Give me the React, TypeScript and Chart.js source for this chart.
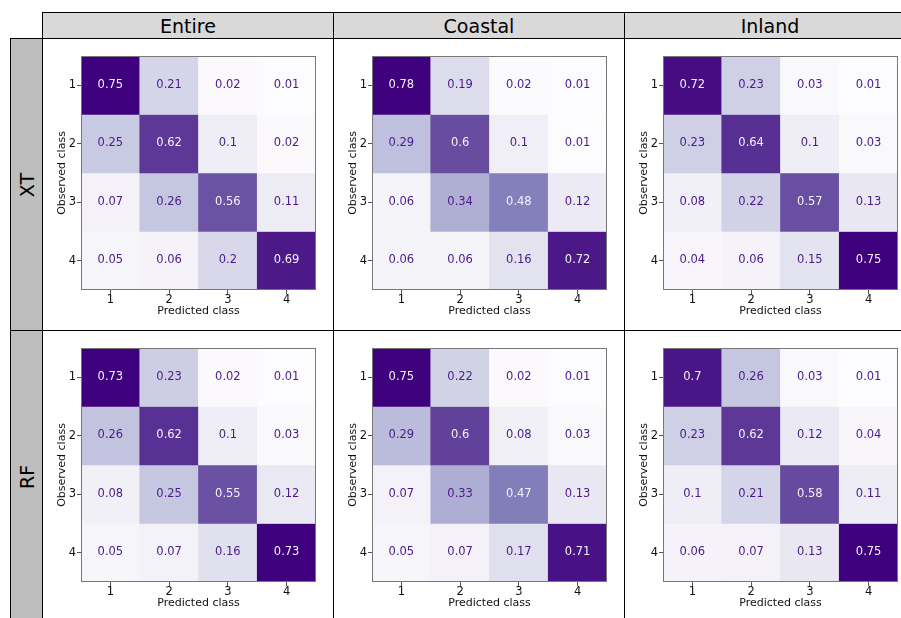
import { useEffect, useRef } from "react";
import { Chart, registerables } from "chart.js";

Chart.register(...registerables);

// ---- data ----
const classLabels = ["1", "2", "3", "4"];
const regionNames = ["Entire", "Coastal", "Inland"];
const modelNames = ["XT", "RF"];

const xtEntire = [
  [0.75, 0.21, 0.02, 0.01],
  [0.25, 0.62, 0.1, 0.02],
  [0.07, 0.26, 0.56, 0.11],
  [0.05, 0.06, 0.2, 0.69],
];
const xtCoastal = [
  [0.78, 0.19, 0.02, 0.01],
  [0.29, 0.6, 0.1, 0.01],
  [0.06, 0.34, 0.48, 0.12],
  [0.06, 0.06, 0.16, 0.72],
];
const xtInland = [
  [0.72, 0.23, 0.03, 0.01],
  [0.23, 0.64, 0.1, 0.03],
  [0.08, 0.22, 0.57, 0.13],
  [0.04, 0.06, 0.15, 0.75],
];
const rfEntire = [
  [0.73, 0.23, 0.02, 0.01],
  [0.26, 0.62, 0.1, 0.03],
  [0.08, 0.25, 0.55, 0.12],
  [0.05, 0.07, 0.16, 0.73],
];
const rfCoastal = [
  [0.75, 0.22, 0.02, 0.01],
  [0.29, 0.6, 0.08, 0.03],
  [0.07, 0.33, 0.47, 0.13],
  [0.05, 0.07, 0.17, 0.71],
];
const rfInland = [
  [0.7, 0.26, 0.03, 0.01],
  [0.23, 0.62, 0.12, 0.04],
  [0.1, 0.21, 0.58, 0.11],
  [0.06, 0.07, 0.13, 0.75],
];

const panelGrid = [
  [xtEntire, xtCoastal, xtInland],
  [rfEntire, rfCoastal, rfInland],
];

// ---- colormap (matplotlib "Purples") ----
const purpleStops = [
  "#fcfbfd", "#efedf5", "#dadaeb", "#bcbddc", "#9e9ac8",
  "#807dba", "#6a51a3", "#54278f", "#3f007d",
];
function hexToRgb(h: string) {
  return [1, 3, 5].map((i) => parseInt(h.slice(i, i + 2), 16));
}
function purples(t: number) {
  const tt = Math.max(0, Math.min(1, t)) * (purpleStops.length - 1);
  const i = Math.min(purpleStops.length - 2, Math.floor(tt));
  const f = tt - i;
  const a = hexToRgb(purpleStops[i]);
  const b = hexToRgb(purpleStops[i + 1]);
  const c = a.map((v, k) => Math.round(v + (b[k] - v) * f));
  return `rgb(${c[0]},${c[1]},${c[2]})`;
}

const FONT = "'DejaVu Sans', sans-serif";
const COL0 = 42;
const ROW0 = 38;
const COLW = 291;
const ROWH = 292;

function Panel({ matrix, col, row }: { matrix: number[][]; col: number; row: number }) {
  const ref = useRef<HTMLCanvasElement>(null);
  useEffect(() => {
    const flat = matrix.flat();
    const vmin = Math.min(...flat);
    const vmax = Math.max(...flat);
    const thresh = (vmin + vmax) / 2;
    const datasets = matrix.map((rowVals, r) => ({
      data: rowVals.map(() => [r, r + 1]),
      backgroundColor: rowVals.map((v) => purples((v - vmin) / (vmax - vmin))),
      borderWidth: 0,
      barPercentage: 1,
      categoryPercentage: 1,
      grouped: false,
    }));
    const cellPlugin = {
      id: "cellText",
      afterDatasetsDraw(chart: any) {
        const { ctx, chartArea, scales } = chart;
        const xs = scales.x;
        const ys = scales.y;
        ctx.save();
        ctx.font = `11.5px ${FONT}`;
        ctx.textAlign = "center";
        ctx.textBaseline = "middle";
        matrix.forEach((rowVals, r) => {
          rowVals.forEach((v, c) => {
            ctx.fillStyle = v < thresh ? "#4a1a8a" : "#f4f2f8";
            ctx.fillText(String(v), xs.getPixelForValue(c), ys.getPixelForValue(r + 0.5) - 0.5);
          });
        });
        ctx.strokeStyle = "#777";
        ctx.lineWidth = 1;
        ctx.strokeRect(
          chartArea.left + 0.5,
          chartArea.top + 0.5,
          chartArea.right - chartArea.left - 1,
          chartArea.bottom - chartArea.top - 1
        );
        ctx.restore();
      },
    };
    const chart = new Chart(ref.current!, {
      type: "bar",
      data: { labels: classLabels, datasets: datasets as any },
      plugins: [cellPlugin],
      options: {
        animation: false,
        responsive: false,
        devicePixelRatio: 1,
        layout: { padding: { left: 0, top: 18, right: 17, bottom: 0 } },
        plugins: { legend: { display: false }, tooltip: { enabled: false } },
        scales: {
          x: {
            type: "category",
            offset: true,
            afterFit: (s: any) => {
              s.height = 40;
            },
            grid: {
              display: true,
              offset: false,
              drawOnChartArea: false,
              drawTicks: true,
              tickLength: 4,
              color: "#555",
            },
            border: { display: false },
            ticks: { color: "#111", font: { family: FONT, size: 11.5 }, padding: -1 },
            title: {
              display: true,
              text: "Predicted class",
              color: "#111",
              font: { family: FONT, size: 11, lineHeight: 1.2 },
              padding: { top: 0, bottom: 12 },
            },
          },
          y: {
            type: "linear",
            min: 0,
            max: 4,
            reverse: true,
            afterFit: (s: any) => {
              s.width = 39;
            },
            afterBuildTicks: (s: any) => {
              s.ticks = classLabels.map((_, i) => ({ value: i + 0.5 }));
            },
            grid: {
              display: true,
              drawOnChartArea: false,
              drawTicks: true,
              tickLength: 4,
              color: "#555",
            },
            border: { display: false },
            ticks: {
              color: "#111",
              font: { family: FONT, size: 11.5 },
              padding: 1,
              callback: (_v: any, i: number) => classLabels[i],
            },
            title: {
              display: true,
              text: "Observed class",
              color: "#111",
              font: { family: FONT, size: 11, lineHeight: 1.2 },
              padding: { top: 13.4, bottom: 0 },
            },
          },
        },
      } as any,
    });
    return () => chart.destroy();
  }, [matrix]);
  return (
    <canvas
      ref={ref}
      width={COLW}
      height={ROWH}
      style={{
        position: "absolute",
        left: COL0 + col * COLW,
        top: ROW0 + row * ROWH,
        width: COLW,
        height: ROWH,
      }}
    />
  );
}

export default function App() {
  const line = "1px solid #000";
  return (
    <div
      style={{
        position: "absolute",
        left: 0,
        top: 0,
        width: 901,
        height: 618,
        overflow: "hidden",
        background: "#fff",
        fontFamily: FONT,
      }}
    >
      {panelGrid.map((rowMats, r) =>
        rowMats.map((m, c) => <Panel key={`${r}-${c}`} matrix={m} col={c} row={r} />)
      )}
      {panelGrid.map((rowMats, r) =>
        rowMats.map((_, c) => (
          <div
            key={`b${r}-${c}`}
            style={{
              position: "absolute",
              left: COL0 + c * COLW,
              top: ROW0 + r * ROWH,
              width: COLW + 1,
              height: ROWH + 1,
              boxSizing: "border-box",
              border: line,
              pointerEvents: "none",
            }}
          />
        ))
      )}
      {regionNames.map((name, c) => (
        <div
          key={name}
          style={{
            position: "absolute",
            left: COL0 + c * COLW,
            top: 12,
            width: COLW + 1,
            height: ROW0 - 12 + 1,
            boxSizing: "border-box",
            border: line,
            background: "#d9d9d9",
            display: "flex",
            alignItems: "center",
            justifyContent: "center",
            fontSize: 19,
            color: "#000",
          }}
        >
          {name}
        </div>
      ))}
      {modelNames.map((name, r) => (
        <div
          key={name}
          style={{
            position: "absolute",
            left: 10,
            top: ROW0 + r * ROWH,
            width: COL0 - 10 + 1,
            height: ROWH + 1,
            boxSizing: "border-box",
            border: line,
            background: "#bebebe",
          }}
        >
          <span
            style={{
              position: "absolute",
              left: "50%",
              top: "50%",
              transform: "translate(-50%, -50%) rotate(-90deg)",
              fontSize: 19,
              color: "#000",
              whiteSpace: "nowrap",
              lineHeight: 1,
            }}
          >
            {name}
          </span>
        </div>
      ))}
    </div>
  );
}
